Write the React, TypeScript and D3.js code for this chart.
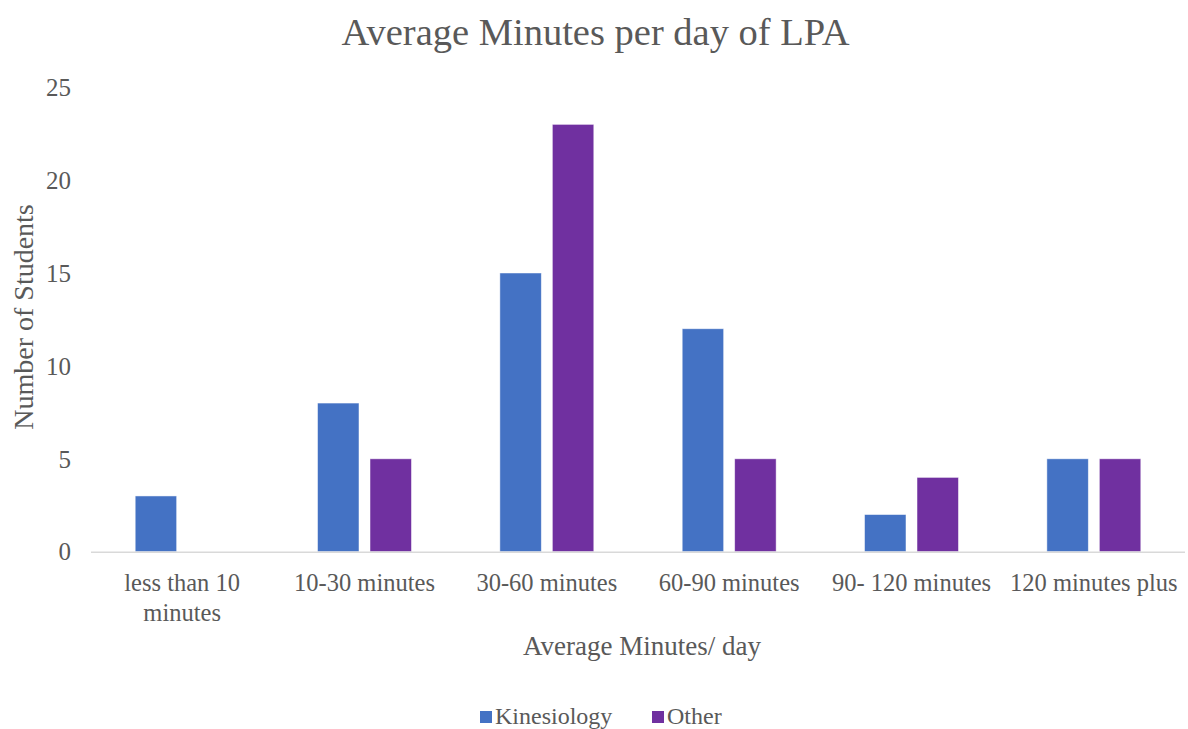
import React, { useEffect, useRef } from "react";
import * as d3 from "d3";

const categories = [
  "less than 10 minutes",
  "10-30 minutes",
  "30-60 minutes",
  "60-90 minutes",
  "90- 120 minutes",
  "120 minutes plus",
];
const seriesNames = ["Kinesiology", "Other"];
const kinesiology = [3, 8, 15, 12, 2, 5];
const other = [0, 5, 23, 5, 4, 5];
const yTicks = [0, 5, 10, 15, 20, 25];
const colors = ["#4472C4", "#7030A0"];

const W = 1188;
const H = 729;
const FONT = "'Liberation Serif', 'Times New Roman', serif";
const TEXT = "#595959";

export default function App() {
  const ref = useRef<SVGSVGElement | null>(null);

  useEffect(() => {
    const svg = d3.select(ref.current);
    svg.selectAll("*").remove();

    const left = 91, right = 1185, top = 87.2, bottom = 551.7;
    const values = [kinesiology, other];

    const x0 = d3.scaleBand<string>().domain(categories).range([left, right]).padding(0);
    const groupPad = 44.2;
    const x1 = d3
      .scaleBand<string>()
      .domain(seriesNames)
      .range([groupPad, x0.bandwidth() - groupPad])
      .paddingInner(0.21)
      .paddingOuter(0);
    const y = d3.scaleLinear().domain([0, 25]).range([bottom, top]);

    // title
    svg
      .append("text")
      .attr("x", 595.5)
      .attr("y", 45)
      .attr("text-anchor", "middle")
      .attr("font-family", FONT)
      .attr("font-size", 38.5)
      .attr("fill", TEXT)
      .text("Average Minutes per day of LPA");

    // y tick labels
    svg
      .append("g")
      .selectAll("text")
      .data(yTicks)
      .join("text")
      .attr("x", 71)
      .attr("y", (d) => y(d))
      .attr("dy", "0.35em")
      .attr("text-anchor", "end")
      .attr("font-family", FONT)
      .attr("font-size", 25)
      .attr("fill", TEXT)
      .text((d) => String(d));

    // bars
    const g = svg.append("g");
    categories.forEach((c, i) => {
      seriesNames.forEach((s, j) => {
        const v = values[j][i];
        if (v <= 0) return;
        g.append("rect")
          .attr("x", (x0(c) as number) + (x1(s) as number))
          .attr("y", y(v))
          .attr("width", x1.bandwidth())
          .attr("height", y(0) - y(v))
          .attr("fill", colors[j])
          .attr("stroke", "#ffffff")
          .attr("stroke-opacity", 0.6)
          .attr("stroke-width", 0.8);
      });
    });

    // x axis line
    svg
      .append("line")
      .attr("x1", left)
      .attr("x2", right)
      .attr("y1", y(0) + 0.5)
      .attr("y2", y(0) + 0.5)
      .attr("stroke", "#D9D9D9")
      .attr("stroke-width", 1.5);

    // x labels with wrapping
    const xl = svg.append("g");
    const labelY = 591;
    categories.forEach((c) => {
      const cx = (x0(c) as number) + x0.bandwidth() / 2;
      const t = xl
        .append("text")
        .attr("x", cx)
        .attr("y", labelY)
        .attr("text-anchor", "middle")
        .attr("font-family", FONT)
        .attr("font-size", 24.5)
        .attr("fill", TEXT)
        .text(c);
      const node = t.node() as SVGTextElement;
      if (node.getComputedTextLength() > x0.bandwidth() - 4) {
        t.text(null);
        const words = c.split(" ");
        const lines: string[] = [];
        let cur: string[] = [];
        const tmp = t.append("tspan");
        words.forEach((w) => {
          const trial = [...cur, w].join(" ");
          tmp.text(trial);
          if ((tmp.node() as SVGTSpanElement).getComputedTextLength() > 140 && cur.length) {
            lines.push(cur.join(" "));
            cur = [w];
          } else cur.push(w);
        });
        if (cur.length) lines.push(cur.join(" "));
        tmp.remove();
        lines.forEach((ln, k) => {
          t.append("tspan").attr("x", cx).attr("y", labelY + k * 30).text(ln);
        });
      }
    });

    // axis titles
    svg
      .append("text")
      .attr("x", 642)
      .attr("y", 655)
      .attr("text-anchor", "middle")
      .attr("font-family", FONT)
      .attr("font-size", 27)
      .attr("fill", TEXT)
      .text("Average Minutes/ day");

    svg
      .append("text")
      .attr("transform", "translate(33,317) rotate(-90)")
      .attr("text-anchor", "middle")
      .attr("font-family", FONT)
      .attr("font-size", 28)
      .attr("fill", TEXT)
      .text("Number of Students");

    // legend
    const legendItems = [
      { name: seriesNames[0], color: colors[0], x: 480 },
      { name: seriesNames[1], color: colors[1], x: 652 },
    ];
    const lg = svg.append("g");
    legendItems.forEach((it) => {
      lg.append("rect")
        .attr("x", it.x)
        .attr("y", 711)
        .attr("width", 12)
        .attr("height", 12)
        .attr("fill", it.color);
      lg.append("text")
        .attr("x", it.x + 15)
        .attr("y", 724)
        .attr("font-family", FONT)
        .attr("font-size", 24)
        .attr("fill", TEXT)
        .text(it.name);
    });
  }, []);

  return (
    <svg
      ref={ref}
      width={W}
      height={H}
      style={{ position: "absolute", left: 0, top: 0, display: "block", background: "#fff" }}
    />
  );
}
